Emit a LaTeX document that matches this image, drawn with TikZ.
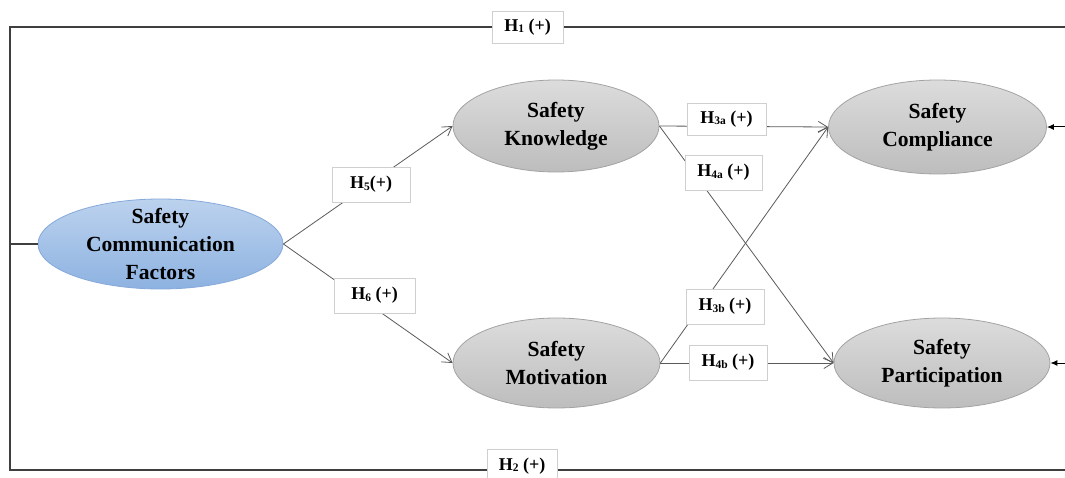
\documentclass[tikz,border=0pt]{standalone}
\usepackage{fontspec}
\setmainfont{Liberation Serif}
\usetikzlibrary{shapes.geometric,arrows.meta}

\definecolor{blueTop}{HTML}{BCD2EE}
\definecolor{blueBot}{HTML}{8DB2E1}
\definecolor{blueEdge}{HTML}{86A9DA}
\definecolor{greyTop}{HTML}{DCDCDC}
\definecolor{greyBot}{HTML}{BDBDBD}
\definecolor{greyEdge}{HTML}{A3A3A3}
\definecolor{loopLine}{HTML}{3F3F3F}
\definecolor{pathLine}{HTML}{5A5A5A}
\definecolor{boxEdge}{HTML}{CFCFCF}

% hypothesis subscript: small, slightly lowered
\newcommand{\hsub}[1]{\raisebox{-1.6pt}{\fontsize{11.5}{12}\selectfont #1}}

\tikzset{
  construct/.style={ellipse, inner sep=0pt, align=center,
    font=\fontsize{21.6}{28}\selectfont\bfseries},
  bluecon/.style={construct, draw=blueEdge, line width=0.8pt,
    top color=blueTop, bottom color=blueBot, inner sep=-8pt},
  greycon/.style={construct, draw=greyEdge, line width=0.8pt,
    top color=greyTop, bottom color=greyBot},
  hyp/.style={draw=boxEdge, fill=white, line width=0.7pt, inner sep=0pt,
    font=\fontsize{18}{20}\selectfont\bfseries},
  loop/.style={draw=loopLine, line width=1.2pt},
  path/.style={draw=pathLine, line width=0.8pt,
    -{Straight Barb[length=9pt,width=11pt,line width=0.8pt]}},
  feed/.style={draw=black, line width=1pt,
    -{Latex[length=7pt,width=6pt]}}
}

\begin{document}
\begin{tikzpicture}[x=1pt,y=-1pt]
\useasboundingbox (0,0) rectangle (1065,478);
\clip (0,0) rectangle (1065,478);

% constructs
\node[bluecon, minimum width=245pt, minimum height=90pt] (scf) at (160.5,244)
  {Safety\\Communication\\Factors};
\node[greycon, minimum width=206pt, minimum height=92pt] (sk) at (556,126)
  {Safety\\Knowledge};
\node[greycon, minimum width=207pt, minimum height=90pt] (sm) at (556.5,363)
  {Safety\\Motivation};
\node[greycon, minimum width=218pt, minimum height=94pt] (sc) at (937.5,127)
  {Safety\\Compliance};
\node[greycon, minimum width=216pt, minimum height=90pt] (sp) at (942,363)
  {Safety\\Participation};

% outer loop coordinates
\coordinate (tl) at (10,27);
\coordinate (tr) at (1065,27);
\coordinate (bl) at (10,470);
\coordinate (br) at (1065,470);
\coordinate (lm) at (10,244);
\coordinate (rc) at (1065,127);
\coordinate (rp) at (1065,363);

\draw[loop] (tr) -- (tl) -- (bl) -- (br);
\draw[loop] (lm) -- (scf.west);

% structural paths
\draw[path] (scf.east) -- (sk.west);
\draw[path] (scf.east) -- (sm.west);
\draw[path] (sk.east) -- (sc.west);
\draw[path] (sk.east) -- (sp.west);
\draw[path] (sm.east) -- (sc.west);
\draw[path] (sm.east) -- (sp.west);

% incoming arrows at the right edge
\draw[feed] (rc) -- (sc.east);
\draw[feed] (rp) -- (sp.east);

% hypothesis labels
\node[hyp, minimum width=71pt, minimum height=32pt] (h1) at (527.5,27)
  {H\hsub{1} (+)};
\node[hyp, minimum width=70pt, minimum height=34pt] (h2) at (522,466)
  {H\hsub{2} (+)};
\node[hyp, minimum width=78pt, minimum height=35pt] (h5) at (371,184.5)
  {H\hsub{5}(+)};
\node[hyp, minimum width=81pt, minimum height=35pt] (h6) at (374.5,295.5)
  {H\hsub{6} (+)};
\node[hyp, minimum width=79pt, minimum height=32pt] (h3a) at (726.5,119)
  {H\hsub{3a} (+)};
\node[hyp, minimum width=77pt, minimum height=35pt] (h4a) at (723.5,172.5)
  {H\hsub{4a} (+)};
\node[hyp, minimum width=78pt, minimum height=35pt] (h3b) at (725,306.5)
  {H\hsub{3b} (+)};
\node[hyp, minimum width=78pt, minimum height=35pt] (h4b) at (728,362.5)
  {H\hsub{4b} (+)};
\end{tikzpicture}
\end{document}
